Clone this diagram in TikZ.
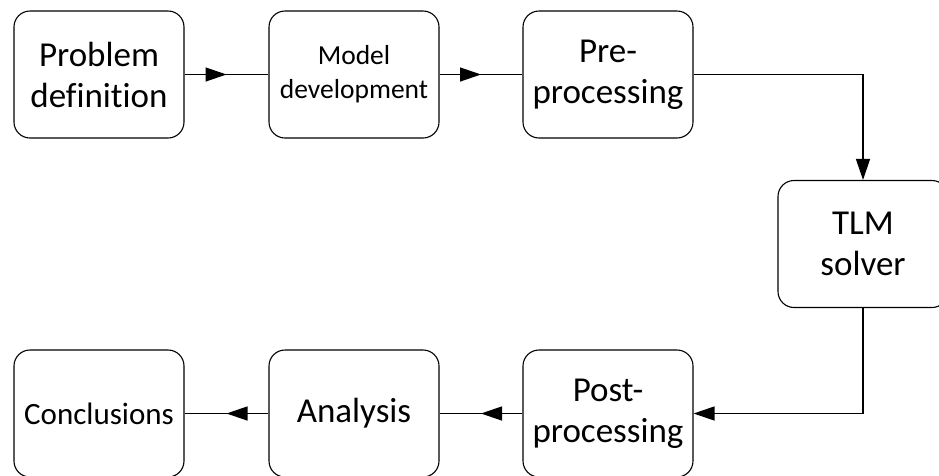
\documentclass[tikz,border=0pt]{standalone}
\usepackage{fontspec}
\setmainfont{Carlito}[Ligatures=NoCommon]
\usetikzlibrary{arrows.meta,decorations.markings}
\begin{document}
\begin{tikzpicture}[x=1pt,y=-1pt,
  stepbox/.style={draw=black,line width=1.1pt,rounded corners=16pt,
    minimum width=170pt,minimum height=127pt,inner sep=0pt,align=center,
    font=\fontsize{35}{41}\selectfont},
  conn/.style={line width=1.3pt},
  endarrow/.style={conn,-{Triangle[length=21pt,width=14pt]}},
  midarrow/.style={conn,decoration={markings,
    mark=at position 0.5 with {\arrow{Triangle[length=21pt,width=14pt]}}},
    postaction={decorate}}]
\useasboundingbox (0,0) rectangle (939,475);
\node[stepbox] (b1) at (99,74.5) {Problem\\definition};
\node[stepbox,font=\fontsize{27.5}{34}\selectfont] (b2) at (354,74.5) {Model\\development};
\node[stepbox] (b3) at (608,74.5) {Pre-\\processing};
\node[stepbox] (b4) at (863,244) {TLM\\solver};
\node[stepbox] (b5) at (608,413.5) {Post-\\processing};
\node[stepbox] (b6) at (354,413.5) {Analysis};
\node[stepbox,font=\fontsize{31}{37}\selectfont] (b7) at (99,413.5) {Conclusions};
\draw[midarrow] (b1.east) -- (b2.west);
\draw[midarrow] (b2.east) -- (b3.west);
\draw[endarrow] (b3.east) -| (b4.north);
\draw[endarrow] (b4.south) |- (b5.east);
\draw[midarrow] (b5.west) -- (b6.east);
\draw[midarrow] (b6.west) -- (b7.east);
\end{tikzpicture}
\end{document}
